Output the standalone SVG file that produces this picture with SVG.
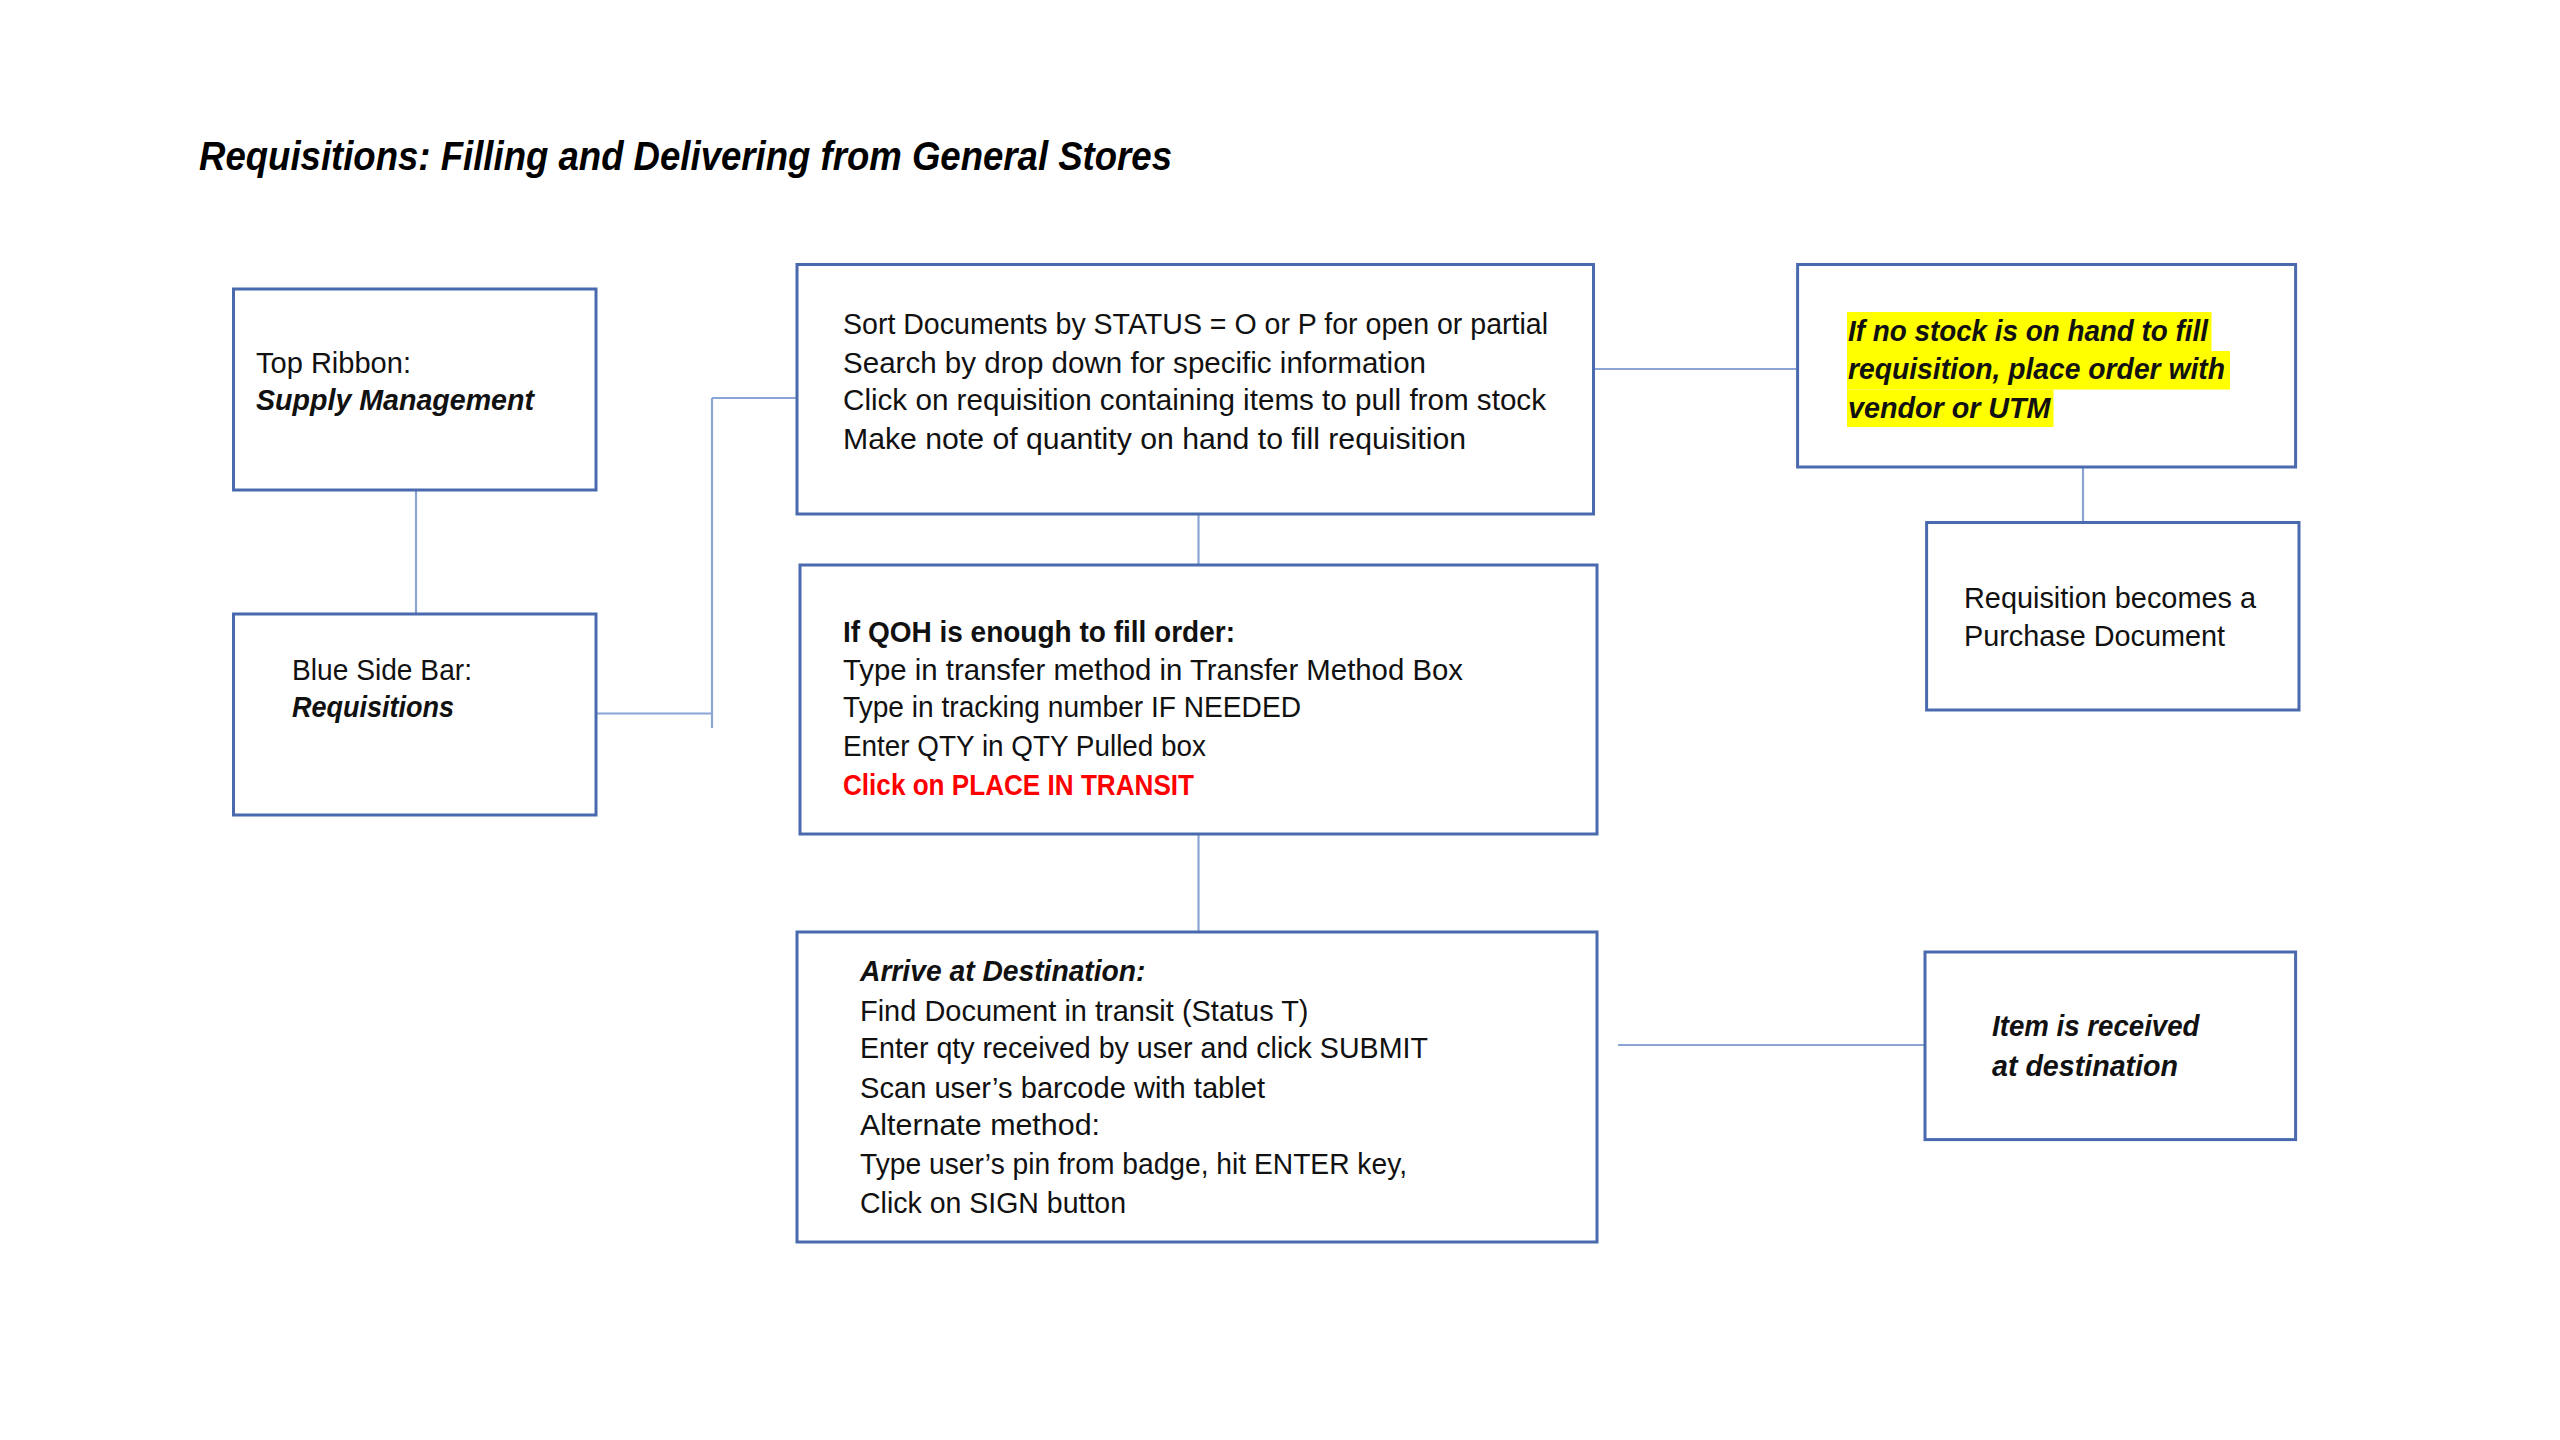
<svg xmlns="http://www.w3.org/2000/svg" width="2560" height="1440" viewBox="0 0 2560 1440">
<style>
.box{fill:#ffffff;stroke:#4a6aae;stroke-width:3}
.con{fill:none;stroke:#8aa4d6;stroke-width:2.2}
text{font-family:"Liberation Sans",Arial,sans-serif;font-size:28.6px;fill:#111111}
.b{font-weight:bold}
.i{font-style:italic}
.red{fill:#ff0000;font-weight:bold}
.title{font-size:40px;font-weight:bold;font-style:italic;fill:#000000}
.hl{fill:#ffff00}
</style>
<rect width="2560" height="1440" fill="#ffffff"/>
<text class="title" x="199" y="170" textLength="973" lengthAdjust="spacingAndGlyphs">Requisitions: Filling and Delivering from General Stores</text>
<g id="connectors">
<line class="con" x1="416" y1="490" x2="416" y2="614"/>
<line class="con" x1="596" y1="713.5" x2="712" y2="713.5"/>
<line class="con" x1="712" y1="398" x2="712" y2="728"/>
<line class="con" x1="712" y1="398" x2="797" y2="398"/>
<line class="con" x1="1593.5" y1="369" x2="1797.6" y2="369"/>
<line class="con" x1="1198.5" y1="514" x2="1198.5" y2="565"/>
<line class="con" x1="2083" y1="467" x2="2083" y2="522.5"/>
<line class="con" x1="1198.5" y1="834" x2="1198.5" y2="932"/>
<line class="con" x1="1618" y1="1045" x2="1925" y2="1045"/>
</g>
<g id="node-top-ribbon">
<rect class="box" x="233.5" y="289" width="362.5" height="201"/>
<text x="256" y="372.5" textLength="155" lengthAdjust="spacingAndGlyphs">Top Ribbon:</text>
<text class="b i" x="256" y="410" textLength="278" lengthAdjust="spacingAndGlyphs">Supply Management</text>
</g>
<g id="node-blue-side-bar">
<rect class="box" x="233.5" y="614" width="362.5" height="201"/>
<text x="292" y="680" textLength="180" lengthAdjust="spacingAndGlyphs">Blue Side Bar:</text>
<text class="b i" x="292" y="717" textLength="162" lengthAdjust="spacingAndGlyphs">Requisitions</text>
</g>
<g id="node-sort">
<rect class="box" x="797" y="264.5" width="796.5" height="249.5"/>
<text x="843" y="334" textLength="705" lengthAdjust="spacingAndGlyphs">Sort Documents by STATUS = O or P for open or partial</text>
<text x="843" y="372.5" textLength="583" lengthAdjust="spacingAndGlyphs">Search by drop down for specific information</text>
<text x="843" y="410" textLength="703" lengthAdjust="spacingAndGlyphs">Click on requisition containing items to pull from stock</text>
<text x="843" y="448.5" textLength="623" lengthAdjust="spacingAndGlyphs">Make note of quantity on hand to fill requisition</text>
</g>
<g id="node-no-stock">
<rect class="box" x="1797.6" y="264.5" width="498" height="202.5"/>
<rect class="hl" x="1847" y="312" width="364.5" height="39"/>
<rect class="hl" x="1847" y="351" width="383" height="38.5"/>
<rect class="hl" x="1847" y="389.5" width="206.5" height="37.5"/>
<text class="b i" x="1848" y="341" textLength="360" lengthAdjust="spacingAndGlyphs">If no stock is on hand to fill</text>
<text class="b i" x="1848" y="379" textLength="377" lengthAdjust="spacingAndGlyphs">requisition, place order with</text>
<text class="b i" x="1848" y="418" textLength="202.5" lengthAdjust="spacingAndGlyphs">vendor or UTM</text>
</g>
<g id="node-purchase">
<rect class="box" x="1926.6" y="522.5" width="372.4" height="187.5"/>
<text x="1964" y="607.5" textLength="292" lengthAdjust="spacingAndGlyphs">Requisition becomes a</text>
<text x="1964" y="646" textLength="261" lengthAdjust="spacingAndGlyphs">Purchase Document</text>
</g>
<g id="node-qoh">
<rect class="box" x="800" y="565" width="797" height="269"/>
<text class="b" x="843" y="642" textLength="392" lengthAdjust="spacingAndGlyphs">If QOH is enough to fill order:</text>
<text x="843" y="680" textLength="620" lengthAdjust="spacingAndGlyphs">Type in transfer method in Transfer Method Box</text>
<text x="843" y="717" textLength="458" lengthAdjust="spacingAndGlyphs">Type in tracking number IF NEEDED</text>
<text x="843" y="756" textLength="363" lengthAdjust="spacingAndGlyphs">Enter QTY in QTY Pulled box</text>
<text class="red" x="843" y="795" textLength="351" lengthAdjust="spacingAndGlyphs">Click on PLACE IN TRANSIT</text>
</g>
<g id="node-arrive">
<rect class="box" x="797" y="932" width="800" height="310"/>
<text class="b i" x="860" y="981" textLength="285.5" lengthAdjust="spacingAndGlyphs">Arrive at Destination:</text>
<text x="860" y="1020.5" textLength="448.5" lengthAdjust="spacingAndGlyphs">Find Document in transit (Status T)</text>
<text x="860" y="1058" textLength="568" lengthAdjust="spacingAndGlyphs">Enter qty received by user and click SUBMIT</text>
<text x="860" y="1097.5" textLength="405" lengthAdjust="spacingAndGlyphs">Scan user’s barcode with tablet</text>
<text x="860" y="1135" textLength="240" lengthAdjust="spacingAndGlyphs">Alternate method:</text>
<text x="860" y="1174" textLength="547" lengthAdjust="spacingAndGlyphs">Type user’s pin from badge, hit ENTER key,</text>
<text x="860" y="1213" textLength="266" lengthAdjust="spacingAndGlyphs">Click on SIGN button</text>
</g>
<g id="node-received">
<rect class="box" x="1925" y="952" width="370.6" height="187.6"/>
<text class="b i" x="1992" y="1036" textLength="207.5" lengthAdjust="spacingAndGlyphs">Item is received</text>
<text class="b i" x="1992" y="1076" textLength="186" lengthAdjust="spacingAndGlyphs">at destination</text>
</g>
</svg>
